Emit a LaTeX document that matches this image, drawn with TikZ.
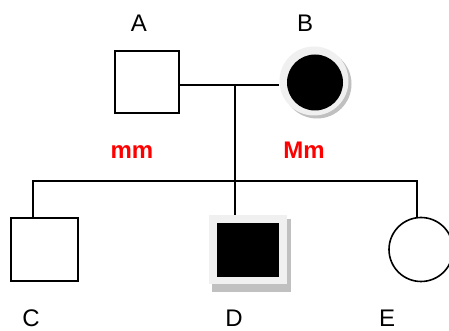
\documentclass[tikz,border=0pt]{standalone}
\usepackage{fontspec}
\setmainfont{Liberation Sans}
\definecolor{ringgray}{RGB}{240,240,240}
\definecolor{shadowgray}{RGB}{192,192,192}
\definecolor{gtred}{RGB}{255,0,0}
\begin{document}
\begin{tikzpicture}[x=1pt,y=1pt,
  lbl/.style={font=\fontsize{24}{28}\selectfont, anchor=base, inner sep=0pt},
  geno/.style={font=\fontsize{24}{28}\selectfont\bfseries, text=gtred, anchor=base, inner sep=0pt},
  male/.style={draw, line width=1.6pt, fill=white, minimum width=64pt, minimum height=62pt, inner sep=0pt},
  female/.style={draw, line width=1.6pt, fill=white, circle, minimum size=64pt, inner sep=0pt},
  link/.style={line width=1.6pt}]
\useasboundingbox[fill=white] (0,0) rectangle (449,331);
\begin{scope}
\clip (0,0) rectangle (449,331);
% parents
\node[male] (A) at (147,249) {};
\node[circle, fill=shadowgray, minimum size=69pt, inner sep=0pt] (Bsh) at (317,247) {};
\node[circle, fill=ringgray, minimum size=69pt, inner sep=0pt] (Bring) at (314,250) {};
\node[circle, fill=black, minimum size=56pt, inner sep=0pt] (B) at (315,248.5) {};
% children
\node[male, minimum width=67pt, minimum height=63pt] (C) at (44.5,81.5) {};
\node[fill=shadowgray, minimum width=79pt, minimum height=73pt, inner sep=0pt] (Dsh) at (251.5,75.5) {};
\node[fill=ringgray, minimum width=78pt, minimum height=69pt, inner sep=0pt] (Dring) at (248,81.5) {};
\node[fill=black, minimum width=62pt, minimum height=54pt, inner sep=0pt] (D) at (248,81) {};
\node[female] (E) at (421,81.5) {};
% connectors
\coordinate (m) at (235,246);
\coordinate (s) at (235,150);
\coordinate (sl) at (33,150);
\coordinate (sr) at (417,150);
\draw[link] (A.east |- m) -- (Bring.west |- m);
\draw[link] (m) -- (s) -- (s |- Dring.north);
\draw[link] (C.north -| sl) -- (sl) -- (sr) -- (sr |- E.north);
\end{scope}
% labels
\node[lbl] (LA) at (139,299) {A};
\node[lbl] (LB) at (305,299) {B};
\node[geno] (GA) at (132,172) {mm};
\node[geno] (GB) at (304,172) {Mm};
\node[lbl] (LC) at (31,4) {C};
\node[lbl] (LD) at (234,4) {D};
\node[lbl] (LE) at (387,4) {E};
\end{tikzpicture}
\end{document}
